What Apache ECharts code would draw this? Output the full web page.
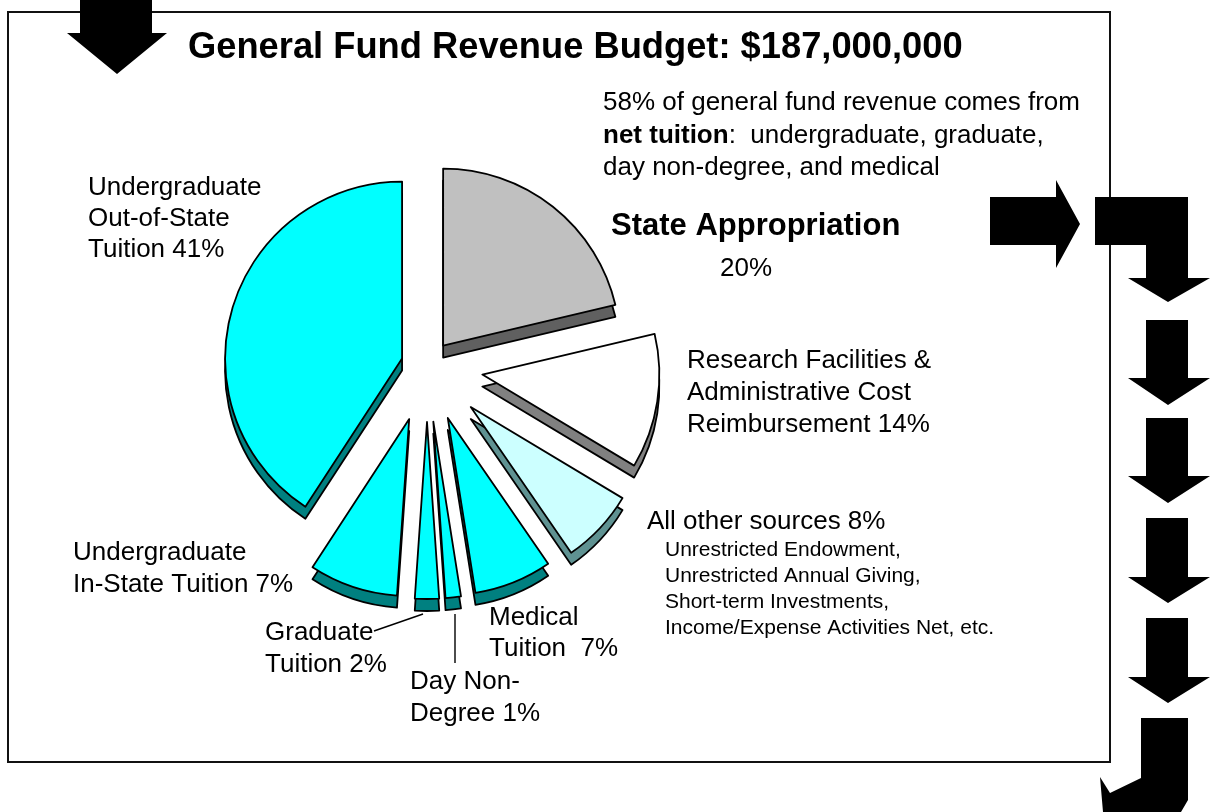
<!DOCTYPE html>
<html><head><meta charset="utf-8">
<script src="https://cdn.jsdelivr.net/npm/echarts@6/dist/echarts.min.js"></script>
<style>html,body{margin:0;padding:0;background:#fff}#c{width:1217px;height:812px}</style>
</head><body><div id="c"></div>
<script>
// ---- data (clockwise from 12 o'clock) ----
const categories = [
  'State Appropriation',
  'Research Facilities & Administrative Cost Reimbursement',
  'All other sources',
  'Medical Tuition',
  'Day Non-Degree',
  'Graduate Tuition',
  'Undergraduate In-State Tuition',
  'Undergraduate Out-of-State Tuition'
];
const values = [21.3, 12.3, 6.8, 7.1, 1.4, 2.2, 8.1, 40.8];
const percentLabels = ['20%', '14%', '8%', '7%', '1%', '2%', '7%', '41%'];
const otherSources = ['Unrestricted Endowment,', 'Unrestricted Annual Giving,', 'Short-term Investments,', 'Income/Expense Activities Net, etc.'];
const titleText = 'General Fund Revenue Budget: $187,000,000';

// ---- styles ----
const topColors  = ['#C0C0C0', '#FFFFFF', '#CCFFFF', '#00FFFF', '#00FFFF', '#00FFFF', '#00FFFF', '#00FFFF'];
const sideColors = ['#606060', '#808080', '#5F9292', '#008080', '#008080', '#008080', '#008080', '#008080'];
const explodeGroup = [0, 1, 2, 1, 1, 1, 1, 0];
const groupOffsets = [26, 56, 60];
const CX = 427, CY = 366, R = 177, DEPTH = 12;
const FONT = '"Liberation Sans", Arial, Helvetica, sans-serif';
const BW = 1.8;

function makeSeries(g, dy, colors, z) {
  const styleFor = i => explodeGroup[i] === g
    ? { color: colors[i], borderColor: '#000', borderWidth: BW }
    : { color: 'rgba(0,0,0,0)', borderWidth: 0 };
  return {
    type: 'pie', z: z, center: [CX, CY + dy], radius: [0, R],
    startAngle: 90, clockwise: true,
    selectedMode: 'multiple', selectedOffset: groupOffsets[g],
    silent: true, animation: false, avoidLabelOverlap: false,
    label: { show: false }, labelLine: { show: false },
    emphasis: { disabled: true },
    data: categories.map((name, i) => ({
      name: name, value: values[i], selected: true,
      itemStyle: styleFor(i),
      select: { itemStyle: styleFor(i) }
    }))
  };
}

const series = [];
for (let g = 0; g < groupOffsets.length; g++) series.push(makeSeries(g, DEPTH, sideColors, 1));
for (let g = 0; g < groupOffsets.length; g++) series.push(makeSeries(g, 0, topColors, 2));

function txt(x, y, text, size, lh, extra) {
  return {
    type: 'text', x: x, y: y, z: 20,
    style: Object.assign({
      text: text, fontSize: size, fontFamily: FONT, fill: '#000',
      lineHeight: lh || Math.round(size * 1.22), verticalAlign: 'top', align: 'left'
    }, extra || {})
  };
}
function poly(points) {
  return { type: 'polygon', z: 15, shape: { points: points }, style: { fill: '#000' } };
}

const graphics = [
  { type: 'rect', z: 0, shape: { x: 8, y: 12, width: 1102, height: 750 }, style: { fill: 'none', stroke: '#111', lineWidth: 2 } },
  // title
  txt(188, 27, titleText, 36.3, 42, { fontWeight: 'bold' }),
  // note
  txt(603, 87, '58% of general fund revenue comes from\n{b|net tuition}:  undergraduate, graduate,\nday non-degree, and medical', 26, 32.5,
      { rich: { b: { fontWeight: 'bold', fontSize: 26, fontFamily: FONT, lineHeight: 32.5 } } }),
  // labels
  txt(611, 209, categories[0], 31, 34, { fontWeight: 'bold' }),
  txt(720, 253, percentLabels[0], 26, 32),
  txt(687, 345, 'Research Facilities &\nAdministrative Cost\nReimbursement ' + percentLabels[1], 26, 32),
  txt(647, 506, categories[2] + ' ' + percentLabels[2], 26, 32),
  txt(665, 537, otherSources.join('\n'), 21, 26),
  txt(489, 602, 'Medical\nTuition  ' + percentLabels[3], 26, 31.5),
  txt(410, 666, 'Day Non-\nDegree ' + percentLabels[4], 26, 32),
  txt(265, 617, 'Graduate\nTuition ' + percentLabels[5], 26, 32),
  txt(73, 537, 'Undergraduate\nIn-State Tuition ' + percentLabels[6], 26, 32),
  txt(88, 172, 'Undergraduate\nOut-of-State\nTuition ' + percentLabels[7], 26, 31),
  // leader lines
  { type: 'line', z: 15, shape: { x1: 374, y1: 631, x2: 423, y2: 614 }, style: { stroke: '#000', lineWidth: 1.4 } },
  { type: 'line', z: 15, shape: { x1: 455, y1: 614, x2: 455, y2: 663 }, style: { stroke: '#000', lineWidth: 1.4 } },
  // arrows
  poly([[80, 0], [152, 0], [152, 33], [167, 33], [117, 74], [67, 33], [80, 33]]),
  poly([[990, 197], [1056, 197], [1056, 180], [1080, 224], [1056, 268], [1056, 245], [990, 245]]),
  poly([[1095, 197], [1188, 197], [1188, 278], [1210, 278], [1168, 302], [1128, 278], [1146, 278], [1146, 245], [1095, 245]]),
  poly([[1146, 320], [1188, 320], [1188, 378], [1210, 378], [1168, 405], [1128, 378], [1146, 378]]),
  poly([[1146, 418], [1188, 418], [1188, 476], [1210, 476], [1168, 503], [1128, 476], [1146, 476]]),
  poly([[1146, 518], [1188, 518], [1188, 577], [1210, 577], [1168, 603], [1128, 577], [1146, 577]]),
  poly([[1146, 618], [1188, 618], [1188, 677], [1210, 677], [1168, 703], [1128, 677], [1146, 677]]),
  poly([[1141, 718], [1188, 718], [1188, 800], [1181, 812], [1103, 812], [1100, 777], [1110, 793], [1141, 778]])
];

const chart = echarts.init(document.getElementById('c'), null, { renderer: 'canvas' });
chart.setOption({
  backgroundColor: '#fff',
  animation: false,
  series: series,
  graphic: graphics
});
</script>
</body></html>
